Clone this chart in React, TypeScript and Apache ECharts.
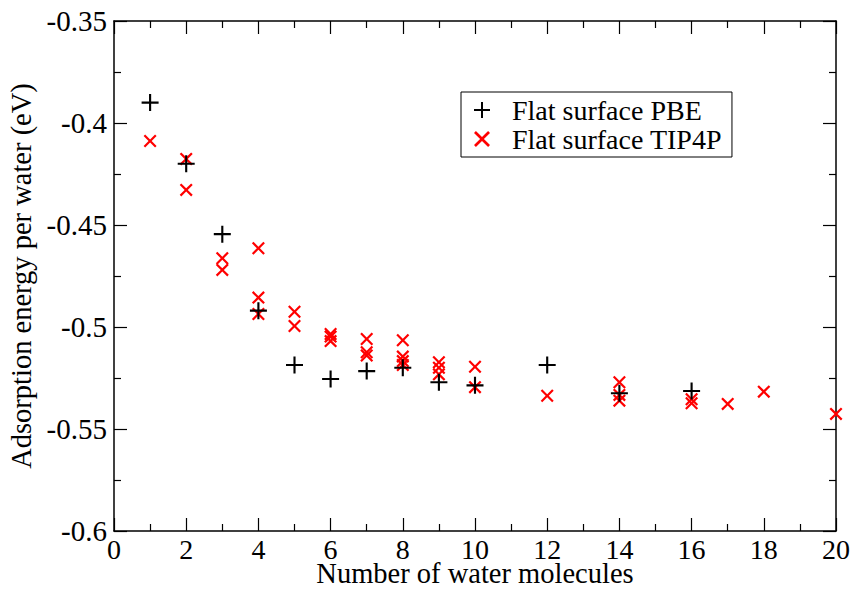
import React, { useEffect, useRef } from "react";
import * as echarts from "echarts";

const pbeX = [1, 2, 3, 4, 5, 6, 7, 8, 9, 10, 12, 14, 16];
const pbeY = [-0.39, -0.42, -0.4545, -0.492, -0.5186, -0.5255, -0.5216, -0.52, -0.5271, -0.5286, -0.5186, -0.5325, -0.5314];

const tipX = [1, 2, 2, 3, 3, 4, 4, 4, 5, 5, 6, 6, 6, 7, 7, 7, 8, 8, 8, 8, 9, 9, 9, 10, 10, 12, 14, 14, 14, 16, 16, 17, 18, 20];
const tipY = [
  -0.4088, -0.4176, -0.4328, -0.4663, -0.472, -0.4614, -0.4856, -0.4936, -0.4925, -0.4995,
  -0.5034, -0.5047, -0.5069, -0.5059, -0.5124, -0.514, -0.5065, -0.5145, -0.5167, -0.5186,
  -0.5173, -0.52, -0.5232, -0.5195, -0.5295, -0.5337, -0.5271, -0.5333, -0.5361, -0.5354,
  -0.5374, -0.5377, -0.5317, -0.5426,
];

const seriesNames = ["Flat surface PBE", "Flat surface TIP4P"];
const xTitle = "Number of water molecules";
const yTitle = "Adsorption energy per water (eV)";

const FONT = "'Liberation Serif', 'Times New Roman', serif";
const PLUS = "path://M7,0H9V7H16V9H9V16H7V9H0V7H7Z";
const CROSS = "path://M0,12L12,0L50,38L88,0L100,12L62,50L100,88L88,100L50,62L12,100L0,88L38,50Z";

export default function App() {
  const ref = useRef<HTMLDivElement>(null);
  useEffect(() => {
    if (!ref.current) return;
    const chart = echarts.init(ref.current, null, { renderer: "svg" });
    const axisCommon = {
      axisLine: { show: true, onZero: false, lineStyle: { color: "#000", width: 1.5 } },
      axisTick: { show: true, inside: true, length: 13, lineStyle: { color: "#000", width: 1.2 } },
      minorTick: { show: true, splitNumber: 2, length: 7, lineStyle: { color: "#000", width: 1.2 } },
      splitLine: { show: false },
      minorSplitLine: { show: false },
    };
    const xBase = { type: "value", min: 0, max: 20, interval: 2, ...axisCommon };
    const yBase = { type: "value", min: -0.6, max: -0.35, interval: 0.05, ...axisCommon };
    chart.setOption({
      animation: false,
      backgroundColor: "#fff",
      grid: { left: 114, right: 17, top: 21, bottom: 58, containLabel: false, outerBoundsMode: "none" },
      legend: {
        data: seriesNames,
        orient: "vertical",
        left: 461,
        top: 92,
        borderColor: "#000",
        borderWidth: 1,
        padding: [4, 10, 4, 13],
        itemGap: 1,
        itemWidth: 16,
        itemHeight: 16,
        textStyle: { fontFamily: FONT, fontSize: 28, lineHeight: 26, color: "#000", padding: [0, 0, 0, 17] },
      },
      xAxis: [
        {
          ...xBase,
          position: "bottom",
          name: xTitle,
          nameLocation: "middle",
          nameGap: 31,
          nameMoveOverlap: false,
          nameTextStyle: { fontFamily: FONT, fontSize: 28.5, lineHeight: 22, color: "#000" },
          axisLabel: { fontFamily: FONT, fontSize: 28, lineHeight: 24, color: "#000", margin: 6 },
        },
        { ...xBase, position: "top", axisLabel: { show: false } },
      ],
      yAxis: [
        {
          ...yBase,
          position: "left",
          name: yTitle,
          nameLocation: "middle",
          nameGap: 78,
          nameMoveOverlap: false,
          nameTextStyle: { fontFamily: FONT, fontSize: 28.5, color: "#000" },
          axisLabel: { fontFamily: FONT, fontSize: 29, color: "#000", margin: 7 },
        },
        { ...yBase, position: "right", axisLabel: { show: false } },
      ],
      series: [
        {
          name: seriesNames[0],
          type: "scatter",
          symbol: PLUS,
          symbolSize: 17,
          clip: false,
          itemStyle: { color: "#000", opacity: 1 },
          data: pbeX.map((x, i) => [x, pbeY[i]]),
          z: 3,
        },
        {
          name: seriesNames[1],
          type: "scatter",
          symbol: CROSS,
          symbolSize: 13,
          clip: false,
          itemStyle: { color: "#ff0000", opacity: 1 },
          data: tipX.map((x, i) => [x, tipY[i]]),
          z: 2,
        },
      ],
    });
    return () => chart.dispose();
  }, []);
  return (
    <div
      ref={ref}
      style={{ position: "fixed", left: 0, top: 0, width: 853, height: 589, background: "#fff" }}
    />
  );
}
